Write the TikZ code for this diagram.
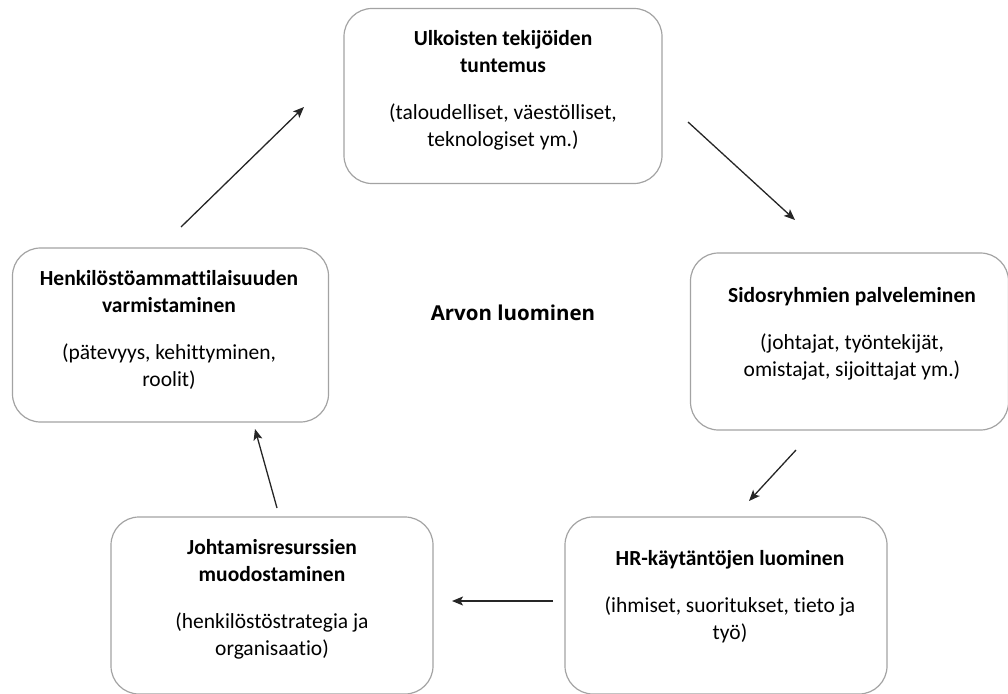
\documentclass[tikz,border=0pt]{standalone}
\usepackage{fontspec}
\setmainfont{Carlito}[Ligatures=CommonOff]
\newfontfamily\arvofont{Open Sans}
\usetikzlibrary{arrows.meta}

\begin{document}
\begin{tikzpicture}[x=1pt,y=-1pt,
  box/.style={draw=black!36,line width=1.2pt,rounded corners=28pt,inner sep=0pt},
  txt/.style={align=center,font=\fontsize{21.5}{27}\selectfont},
  nuoli/.style={-{Stealth[length=11pt,width=9pt,inset=2.5pt]},line width=1.3pt,black!85}]
\useasboundingbox (0,0) rectangle (1008,693);
\clip (0,0) rectangle (1008,693);
% laatikot
\node[box,minimum width=318pt,minimum height=175pt] (ulk) at (503,96) {};
\node[box,minimum width=318pt,minimum height=177pt] (sid) at (849.5,341.5) {};
\node[box,minimum width=322pt,minimum height=177pt] (hrk) at (726,605.5) {};
\node[box,minimum width=322pt,minimum height=177pt] (joh) at (272,605.5) {};
\node[box,minimum width=316pt,minimum height=174pt] (hen) at (170.5,335) {};
% tekstit
\node[txt] (ulkT) at (503,90) {\textbf{Ulkoisten tekijöiden}\\\textbf{tuntemus}\\[20pt](taloudelliset, väestölliset,\\teknologiset ym.)};
\node[txt] (sidT) at (852,334) {\textbf{Sidosryhmien palveleminen}\\[20pt](johtajat, työntekijät,\\omistajat, sijoittajat ym.)};
\node[txt] (hrkT) at (730,597) {\textbf{HR-käytäntöjen luominen}\\[20pt](ihmiset, suoritukset, tieto ja\\työ)};
\node[txt] (johT) at (272,599) {\textbf{Johtamisresurssien}\\\textbf{muodostaminen}\\[20pt](henkilöstöstrategia ja\\organisaatio)};
\node[txt] (henT) at (169,330) {\textbf{Henkilöstöammattilaisuuden}\\\textbf{varmistaminen}\\[20pt](pätevyys, kehittyminen,\\roolit)};
\node[font=\arvofont\bfseries\fontsize{20.5}{24}\selectfont] (arvo) at (513,313) {Arvon luominen};
% nuolet
\coordinate (n1a) at (181,227); \coordinate (n1b) at (304,107);
\coordinate (n2a) at (688,122); \coordinate (n2b) at (795,220);
\coordinate (n3a) at (796,450); \coordinate (n3b) at (749,501);
\coordinate (n4a) at (553,601); \coordinate (n4b) at (452,601);
\coordinate (n5a) at (277,508); \coordinate (n5b) at (255,429);
\draw[nuoli] (n1a) -- (n1b);
\draw[nuoli] (n2a) -- (n2b);
\draw[nuoli] (n3a) -- (n3b);
\draw[nuoli] (n4a) -- (n4b);
\draw[nuoli] (n5a) -- (n5b);
\end{tikzpicture}
\end{document}
